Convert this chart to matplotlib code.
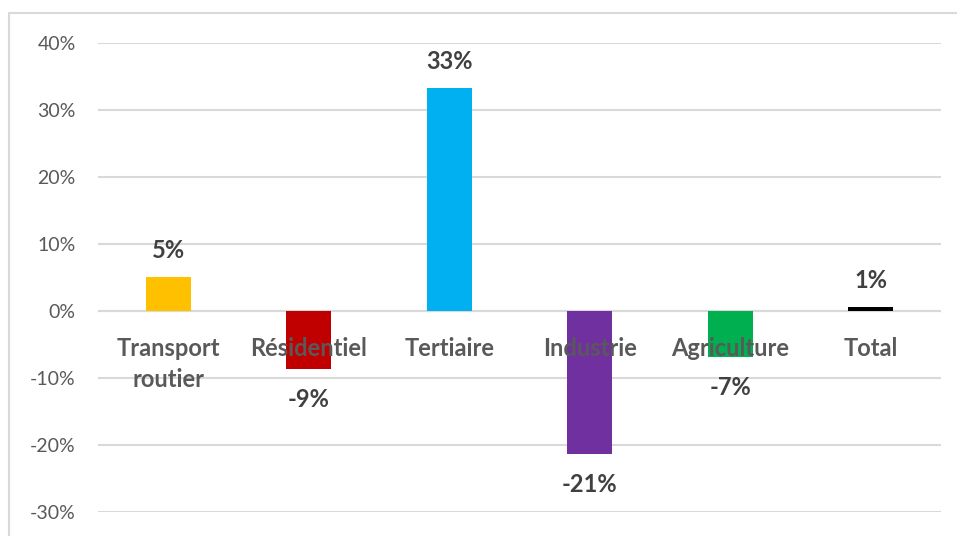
import matplotlib
matplotlib.use("Agg")
import matplotlib.pyplot as plt
from matplotlib.patches import Rectangle
from matplotlib.ticker import FuncFormatter

categories = ["Transport\nroutier", "Résidentiel", "Tertiaire", "Industrie", "Agriculture", "Total"]
values = [5.1, -8.6, 33.3, -21.3, -6.8, 0.6]
labels = ["5%", "-9%", "33%", "-21%", "-7%", "1%"]
colors = ["#FFC000", "#C00000", "#00B0F0", "#7030A0", "#00B050", "#000000"]
yticks = [-30, -20, -10, 0, 10, 20, 30, 40]

plt.rcParams["font.family"] = ["Lato", "DejaVu Sans"]

W, H = 957, 536
fig = plt.figure(figsize=(W / 100, H / 100), dpi=100)
ax = fig.add_axes([98 / W, 1 - 512 / H, (941 - 98) / W, (512 - 43) / H])

# outer chart border (only top/left visible in crop)
fig.patches.append(Rectangle((9 / W, -0.1), 1.2, (H - 13) / H + 0.1, transform=fig.transFigure,
                             fill=False, edgecolor="#d9d9d9", linewidth=1.5))

x = list(range(len(categories)))
ax.bar(x, values, width=0.32, color=colors, zorder=3)

ax.set_ylim(-30, 40)
ax.set_xlim(-0.5, len(categories) - 0.5)
ax.set_yticks(yticks)
ax.yaxis.set_major_formatter(FuncFormatter(lambda v, p: f"{int(v)}%"))
ax.grid(axis="y", color="#d9d9d9", linewidth=1.5, zorder=0)
ax.axhline(0, color="#d9d9d9", linewidth=1.5, zorder=1)

for s in ["top", "right", "left"]:
    ax.spines[s].set_visible(False)
ax.spines["bottom"].set_position(("data", 0))
ax.spines["bottom"].set_visible(False)

ax.set_xticks(x)
ax.set_xticklabels(categories, fontsize=17, fontweight="bold", color="#595959",
                   linespacing=1.42)
ax.xaxis.set_zorder(5)
ax.tick_params(axis="x", length=0, pad=18.5)
ax.tick_params(axis="y", length=0, labelsize=14, labelcolor="#595959", pad=16)

for xi, v, lab in zip(x, values, labels):
    off = 26 if v >= 0 else -31
    ax.annotate(lab, (xi, v), xytext=(0, off * 0.72), textcoords="offset points",
                ha="center", va="center", fontsize=17, fontweight="bold", color="#404040",
                zorder=6)

fig.savefig("out.png", dpi=100)
